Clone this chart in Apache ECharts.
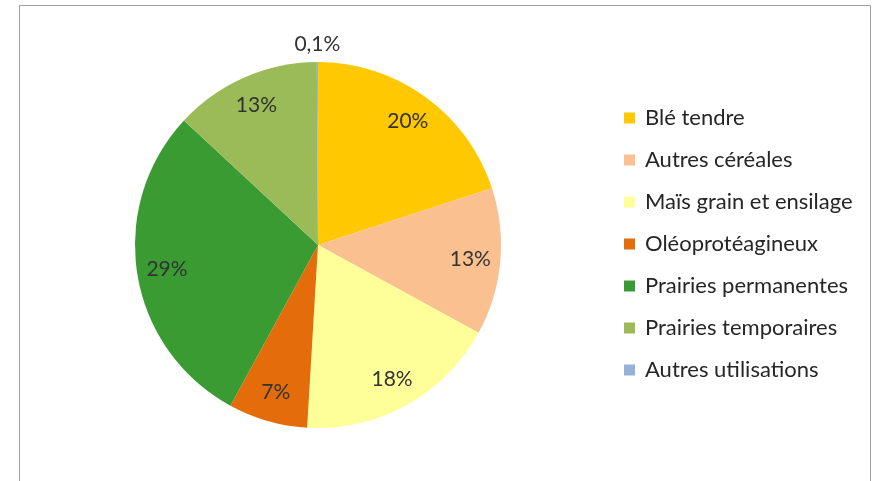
<!DOCTYPE html>
<html>
<head>
<meta charset="utf-8">
<script src="https://cdn.jsdelivr.net/npm/echarts@6/dist/echarts.min.js"></script>
<style>
html,body{margin:0;padding:0;background:#fff;}
#chart{width:873px;height:481px;}
</style>
</head>
<body>
<div id="chart"></div>
<script>
var categories = ['Blé tendre','Autres céréales','Maïs grain et ensilage','Oléoprotéagineux','Prairies permanentes','Prairies temporaires','Autres utilisations'];
var values = [20, 13, 18, 7, 29, 13, 0.1];
var colors = ['#FFC800','#FAC090','#FFFF99','#E46C0A','#3A9B32','#9BBB59','#95B3D7'];

function fmt(v){ return String(v).replace('.', ',') + '%'; }

var baseData = categories.map(function(c,i){ return {name:c, value:values[i], itemStyle:{color:colors[i]}}; });
var innerLabelData = categories.map(function(c,i){
  return {name:c, value:values[i], label:{show: values[i] >= 1}};
});
var outerLabelData = categories.map(function(c,i){
  return {name:c, value:values[i], label:{show: values[i] < 1}};
});

var chart = echarts.init(document.getElementById('chart'), null, {renderer:'canvas'});
var font = 'Lato, "Open Sans", sans-serif';
chart.setOption({
  animation:false,
  backgroundColor:'#fff',
  graphic:[{type:'rect', shape:{x:19.5,y:5.5,width:851,height:480}, style:{fill:'none', stroke:'#a0a0a0', lineWidth:1}, silent:true}],
  legend:{
    orient:'vertical', left:619, top:102,
    itemWidth:11, itemHeight:11, itemGap:20,
    icon:'rect',
    textStyle:{fontFamily:font, fontSize:22, color:'#262626', lineHeight:22, padding:[0,0,0,5]},
    data:categories
  },
  series:[
    {type:'pie', center:[318,245], radius:[0,183], startAngle:90, clockwise:true,
     label:{show:false}, labelLine:{show:false}, data:baseData, silent:true},
    {type:'pie', center:[318,245], radius:[117,183], startAngle:90, clockwise:true, silent:true,
     itemStyle:{color:'rgba(0,0,0,0)'},
     label:{show:true, position:'inside', rotate:0, fontFamily:font, fontSize:21, color:'#333',
       formatter:function(p){return fmt(p.value);}},
     labelLine:{show:false}, data:innerLabelData},
    {type:'pie', center:[318,245], radius:[189,207], startAngle:90, clockwise:true, silent:true,
     itemStyle:{color:'rgba(0,0,0,0)'},
     label:{show:true, position:'inside', rotate:0, fontFamily:font, fontSize:21, color:'#333',
       formatter:function(p){return fmt(p.value);}},
     labelLine:{show:false}, data:outerLabelData}
  ]
});
</script>
</body>
</html>
